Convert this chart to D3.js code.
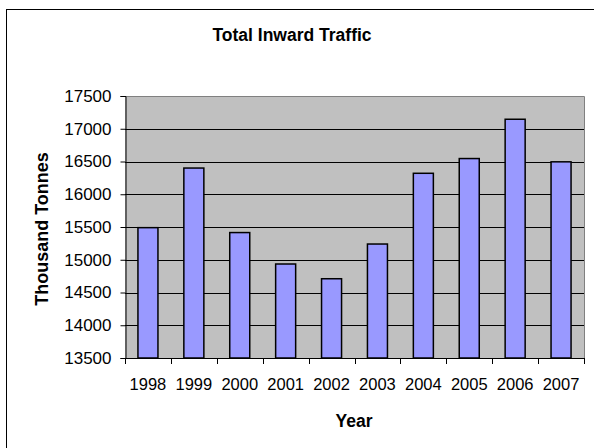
<!DOCTYPE html>
<html><head><meta charset="utf-8">
<script src="https://cdn.jsdelivr.net/npm/d3@7"></script>
<style>html,body{margin:0;padding:0;background:#fff;}svg{display:block;}</style>
</head><body>
<script>
const years = ["1998","1999","2000","2001","2002","2003","2004","2005","2006","2007"];
const inwardTraffic = [15490, 16400, 15415, 14935, 14710, 15240, 16320, 16545, 17145, 16495];
const yTicks = [13500, 14000, 14500, 15000, 15500, 16000, 16500, 17000, 17500];
const titleText = "Total Inward Traffic";
const xTitle = "Year";
const yTitle = "Thousand Tonnes";

const W = 594, H = 448;
const L = 125, R = 584, T = 96, B = 358;
const font = "Arial, 'Liberation Sans', sans-serif";

const svg = d3.select("body").append("svg").attr("width", W).attr("height", H);

// outer chart border
svg.append("rect").attr("x", 6.5).attr("y", 9.5).attr("width", 600).attr("height", 460)
  .attr("fill", "#fff").attr("stroke", "#000").attr("stroke-width", 1);

const x = d3.scaleBand().domain(years).range([L, R]).paddingInner(0.564).paddingOuter(0.282);
const y = d3.scaleLinear().domain([13500, 17500]).range([B, T]);

// plot background
svg.append("rect").attr("x", L).attr("y", T).attr("width", R - L).attr("height", B - T)
  .attr("fill", "#C0C0C0");

// plot border top/right grey
svg.append("path").attr("d", `M${L},${T+0.5}H${R+0.5}V${B}`).attr("fill", "none")
  .attr("stroke", "#808080").attr("stroke-width", 1);

// gridlines
svg.append("g").selectAll("line").data(yTicks.filter(v => v > 13500 && v < 17500)).join("line")
  .attr("x1", L).attr("x2", R)
  .attr("y1", d => Math.round(y(d)) + 0.5).attr("y2", d => Math.round(y(d)) + 0.5)
  .attr("stroke", "#000").attr("stroke-width", 1);

// bars
svg.append("g").selectAll("rect").data(years).join("rect")
  .attr("x", d => x(d)).attr("width", x.bandwidth())
  .attr("y", (d, i) => y(inwardTraffic[i])).attr("height", (d, i) => B - y(inwardTraffic[i]))
  .attr("fill", "#9999FF").attr("stroke", "#000").attr("stroke-width", 1.5);

// y axis
const yAxis = d3.axisLeft(y).tickValues(yTicks).tickSize(5).tickPadding(9).tickFormat(d3.format("d"));
const gy = svg.append("g").attr("transform", `translate(${L + 0.5},0)`).call(yAxis);
gy.select(".domain").attr("stroke", "#000");
gy.selectAll(".tick line").attr("stroke", "#000");
gy.selectAll("text").attr("font-family", font).attr("font-size", 17).attr("fill", "#000");

// x axis line and boundary ticks
const gx = svg.append("g");
gx.append("line").attr("x1", L).attr("x2", R + 1).attr("y1", B + 0.5).attr("y2", B + 0.5).attr("stroke", "#000");
const bounds = years.map(d => x(d) - (x.step() - x.bandwidth()) / 2).concat([R]);
gx.selectAll("line.tk").data(bounds).join("line").attr("class", "tk")
  .attr("x1", d => Math.round(d) + 0.5).attr("x2", d => Math.round(d) + 0.5)
  .attr("y1", B).attr("y2", B + 6).attr("stroke", "#000");
gx.selectAll("text").data(years).join("text")
  .attr("x", d => x(d) + x.bandwidth() / 2).attr("y", 390)
  .attr("text-anchor", "middle").attr("font-family", font).attr("font-size", 16.5).attr("fill", "#000")
  .text(d => d);

// titles
svg.append("text").attr("x", 292).attr("y", 41).attr("text-anchor", "middle")
  .attr("font-family", font).attr("font-size", 17.5).attr("font-weight", "bold").text(titleText);
svg.append("text").attr("x", 354).attr("y", 427).attr("text-anchor", "middle")
  .attr("font-family", font).attr("font-size", 17.5).attr("font-weight", "bold").text(xTitle);
svg.append("text").attr("transform", "translate(48,229) rotate(-90)").attr("text-anchor", "middle")
  .attr("font-family", font).attr("font-size", 18).attr("font-weight", "bold").text(yTitle);
</script>
</body></html>
